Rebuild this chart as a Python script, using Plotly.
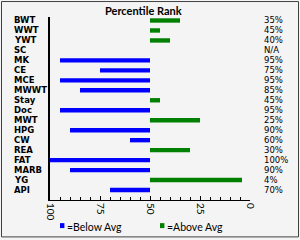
import plotly.graph_objects as go

categories = ["BWT", "WWT", "YWT", "SC", "MK", "CE", "MCE", "MWWT", "Stay", "Doc",
              "MWT", "HPG", "CW", "REA", "FAT", "MARB", "YG", "API"]
ranks = [35, 45, 40, None, 95, 75, 95, 85, 45, 95, 25, 90, 60, 30, 100, 90, 4, 70]
rank_labels = ["35%", "45%", "40%", "N/A", "95%", "75%", "95%", "85%", "45%", "95%",
               "25%", "90%", "60%", "30%", "100%", "90%", "4%", "70%"]
x_ticks = [100, 75, 50, 25, 0]
average = 50

BLUE = "#0000ff"
GREEN = "#008000"
BG = "#f4f4f4"
FONT = "Lato"
ROWFONT = "DejaVu Sans"

below_y = [c for c, r in zip(categories, ranks) if r is not None and r > average]
below_x = [r - average for r in ranks if r is not None and r > average]
above_y = [c for c, r in zip(categories, ranks) if r is not None and r < average]
above_x = [r - average for r in ranks if r is not None and r < average]

fig = go.Figure()
fig.add_trace(go.Bar(y=below_y, x=below_x, base=average, orientation="h",
                     marker=dict(color=BLUE, line=dict(width=0)), width=0.44,
                     name="=Below Avg", showlegend=False))
fig.add_trace(go.Bar(y=above_y, x=above_x, base=average, orientation="h",
                     marker=dict(color=GREEN, line=dict(width=0)), width=0.44,
                     name="=Above Avg", showlegend=False))

annotations = []
for c, lab in zip(categories, rank_labels):
    annotations.append(dict(x=-0.19, xref="paper", y=c, yref="y", text="<b>" + c + "</b>",
                            xanchor="left", yanchor="middle", showarrow=False,
                            font=dict(family=ROWFONT, size=8.5, color="#000000")))
    annotations.append(dict(x=1.06, xref="paper", y=c, yref="y", text=lab,
                            xanchor="left", yanchor="middle", showarrow=False,
                            font=dict(family=ROWFONT, size=8.5, color="#000000")))

annotations.append(dict(x=0.468, xref="paper", y=1.033, yref="paper",
                        text="<b>Percentile Rank</b>", xanchor="center", yanchor="middle",
                        showarrow=False, font=dict(family=FONT, size=11, color="#000000")))
annotations.append(dict(x=0.075, xref="paper", y=-0.145, yref="paper",
                        text="=Below Avg", xanchor="left", yanchor="middle",
                        showarrow=False, font=dict(family=FONT, size=10.5, color="#000000")))
annotations.append(dict(x=0.575, xref="paper", y=-0.145, yref="paper",
                        text="=Above Avg", xanchor="left", yanchor="middle",
                        showarrow=False, font=dict(family=FONT, size=10.5, color="#000000")))

shapes = [
    dict(type="rect", xref="paper", yref="paper", x0=0.05, x1=0.072,
         y0=-0.1535, y1=-0.1264, fillcolor=BLUE, line=dict(width=0)),
    dict(type="rect", xref="paper", yref="paper", x0=0.55, x1=0.572,
         y0=-0.1535, y1=-0.1264, fillcolor=GREEN, line=dict(width=0)),
    dict(type="rect", xref="paper", yref="paper", x0=-0.2425, x1=1.2425,
         y0=-0.2016, y1=1.0845, line=dict(color="#404040", width=1)),
]

fig.update_layout(
    width=300, height=240,
    margin=dict(l=50, r=50, t=17, b=39.5, pad=0),
    paper_bgcolor=BG, plot_bgcolor=BG,
    barmode="overlay",
    showlegend=False,
    annotations=annotations,
    shapes=shapes,
    xaxis=dict(range=[100, 0], tickvals=x_ticks, ticktext=[str(v) for v in x_ticks],
               tickangle=90, ticks="inside", ticklen=4, tickcolor="#000000",
               showline=True, linecolor="#000000", linewidth=1, showgrid=False,
               zeroline=False, tickfont=dict(family=FONT, size=10, color="#000000"),
               minor=dict(dtick=5, ticks="inside", ticklen=3, tickcolor="#000000")),
    yaxis=dict(categoryorder="array", categoryarray=categories,
               range=[18.0, -0.35], showticklabels=False, ticks="",
               showline=True, linecolor="#000000", linewidth=1.5, showgrid=False,
               zeroline=False),
)

fig.write_html("out.html")
